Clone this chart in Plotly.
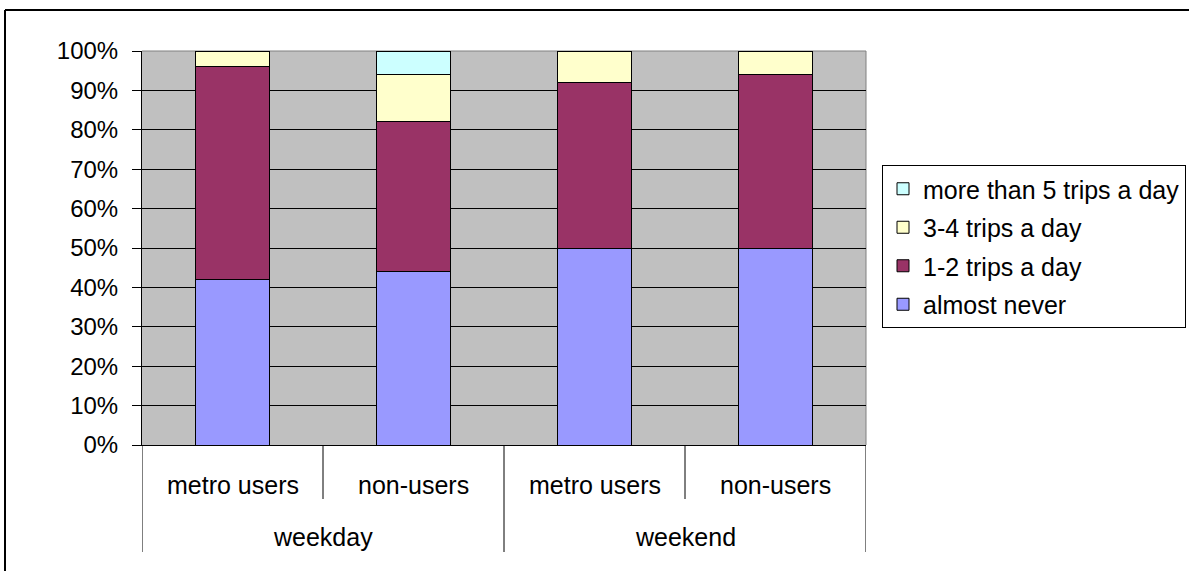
import plotly.graph_objects as go

# Survey shares by period and respondent group (fractions of 1)
periods = ["weekday", "weekday", "weekend", "weekend"]
groups = ["metro users", "non-users", "metro users", "non-users"]
almost_never = [0.42, 0.44, 0.50, 0.50]
trips_1_2 = [0.54, 0.38, 0.42, 0.44]
trips_3_4 = [0.04, 0.12, 0.08, 0.06]
trips_5_plus = [0.00, 0.06, 0.00, 0.00]
y_ticks = [i / 10 for i in range(11)]

series = [
    ("almost never", almost_never, "#9999FF"),
    ("1-2 trips a day", trips_1_2, "#993366"),
    ("3-4 trips a day", trips_3_4, "#FFFFCC"),
    ("more than 5 trips a day", trips_5_plus, "#CCFFFF"),
]

W, H = 1189, 571
ML, MR, MT, MB = 142, 323, 51, 126
PW, PH = W - ML - MR, H - MT - MB
FONT = "Liberation Sans, Arial, sans-serif"

x_pos = list(range(len(groups)))

fig = go.Figure()
for k, (name, vals, color) in enumerate(series):
    fig.add_trace(go.Bar(
        x=x_pos, y=vals, name=name, legendgroup=name,
        legendrank=len(series) - k,
        marker=dict(color=color, line=dict(color="black", width=1)),
    ))


def px_x(px):
    return (px - ML) / PW


def px_y(py):
    return (H - MB - py) / PH


shapes = []
# plot-area frame on top and right (grey)
shapes.append(dict(type="line", xref="paper", yref="paper", x0=0, x1=1, y0=1, y1=1,
                   line=dict(color="#808080", width=1), layer="between"))
shapes.append(dict(type="line", xref="paper", yref="paper", x0=1, x1=1, y0=0, y1=1,
                   line=dict(color="#808080", width=1), layer="between"))

# category dividers below the axis
for xd, depth in [(-0.5, 107), (0.5, 54), (1.5, 107), (2.5, 54), (3.5, 107)]:
    shapes.append(dict(type="line", xref="x", yref="paper", ysizemode="pixel", yanchor=0,
                       x0=xd, x1=xd, y0=0, y1=-depth,
                       line=dict(color="black", width=1)))

# chart-area border (top and left edges)
shapes.append(dict(type="line", xref="paper", yref="paper",
                   x0=px_x(5), x1=px_x(W + 5), y0=px_y(10), y1=px_y(10),
                   line=dict(color="black", width=2)))
shapes.append(dict(type="line", xref="paper", yref="paper",
                   x0=px_x(5), x1=px_x(5), y0=px_y(10), y1=px_y(H + 5),
                   line=dict(color="black", width=2)))

annotations = []
for i, g in enumerate(groups):
    annotations.append(dict(x=i, xref="x", y=0, yref="paper", yshift=-40,
                            text=g, showarrow=False, yanchor="middle",
                            font=dict(family=FONT, size=25, color="black")))
for p, xc in [("weekday", 0.5), ("weekend", 2.5)]:
    annotations.append(dict(x=xc, xref="x", y=0, yref="paper", yshift=-92,
                            text=p, showarrow=False, yanchor="middle",
                            font=dict(family=FONT, size=25, color="black")))

fig.update_layout(
    width=W, height=H,
    margin=dict(l=ML, r=MR, t=MT, b=MB, pad=0, autoexpand=False),
    barmode="stack", bargap=0.59,
    paper_bgcolor="white", plot_bgcolor="#C0C0C0",
    font=dict(family=FONT, size=24, color="black"),
    xaxis=dict(range=[-0.5, 3.5], showticklabels=False, ticks="",
               showgrid=False, zeroline=False,
               showline=True, linecolor="black", linewidth=1, fixedrange=True),
    yaxis=dict(range=[0, 1], tickvals=y_ticks, tickformat=".0%",
               ticks="outside", ticklen=9, tickcolor="black", tickwidth=1,
               ticklabelstandoff=9,
               showgrid=True, gridcolor="black", gridwidth=1,
               zeroline=False, showline=True, linecolor="black", linewidth=1,
               tickfont=dict(family=FONT, size=24, color="black"), fixedrange=True),
    legend=dict(x=px_x(882), y=px_y(165), xanchor="left", yanchor="top",
                traceorder="grouped", tracegroupgap=3,
                bordercolor="black", borderwidth=1, bgcolor="white",
                font=dict(family=FONT, size=25, color="black"),
                itemwidth=30),
    shapes=shapes,
    annotations=annotations,
    showlegend=True,
)

fig.write_html("out.html")
